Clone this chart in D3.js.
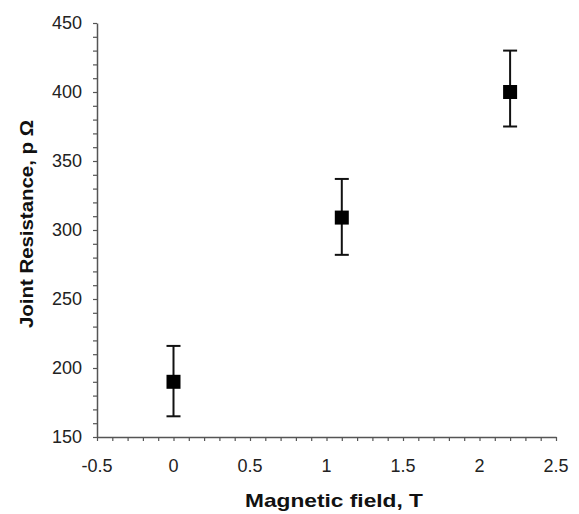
<!DOCTYPE html>
<html>
<head>
<meta charset="utf-8">
<script src="https://cdn.jsdelivr.net/npm/d3@7"></script>
<style>
  body { margin: 0; background: #fff; }
  text { font-family: "Liberation Sans", Arial, sans-serif; }
</style>
</head>
<body>
<script>
var svg_width  = 579;
var svg_height = 514;

// data
var field      = [0, 1.1, 2.2];
var resistance = [190, 309, 400];
var errLow     = [165, 282, 375];
var errHigh    = [216, 337, 430];

var xTicks = [-0.5, 0, 0.5, 1, 1.5, 2, 2.5];
var yTicks = [150, 200, 250, 300, 350, 400, 450];

var margin = {left: 97, top: 23, right: 23, bottom: 77};

var svg = d3.select('body').append('svg')
            .attr('width', svg_width)
            .attr('height', svg_height);

var x = d3.scaleLinear().domain([-0.5, 2.5]).range([margin.left, svg_width - margin.right]);
var y = d3.scaleLinear().domain([150, 450]).range([svg_height - margin.bottom, margin.top]);

var axisColor = "#555";

// minor ticks every 0.1 / 10
var xMinor = d3.range(-0.5, 2.5001, 0.1);
var yMinor = d3.range(150, 450.001, 10);

var xAxis = svg.append("g")
    .attr("transform", "translate(0," + y(150) + ")")
    .call(d3.axisBottom(x).tickValues(xMinor).tickSize(4).tickSizeOuter(0).tickFormat(""));
var yAxis = svg.append("g")
    .attr("transform", "translate(" + x(-0.5) + ",0)")
    .call(d3.axisLeft(y).tickValues(yMinor).tickSize(4).tickSizeOuter(0).tickFormat(""));

[xAxis, yAxis].forEach(function(a) {
  a.select(".domain").attr("stroke", axisColor).attr("stroke-width", 1.5);
  a.selectAll(".tick line").attr("stroke", axisColor).attr("stroke-width", 1.2);
});

// tick labels
svg.append("g").selectAll("text")
   .data(xTicks)
   .enter().append("text")
   .attr("x", d => x(d))
   .attr("y", y(150) + 35)
   .attr("text-anchor", "middle")
   .attr("font-size", 18)
   .attr("fill", "#222")
   .text(d => d);

svg.append("g").selectAll("text")
   .data(yTicks)
   .enter().append("text")
   .attr("x", x(-0.5) - 15)
   .attr("y", d => y(d) + 6)
   .attr("text-anchor", "end")
   .attr("font-size", 18)
   .attr("fill", "#222")
   .text(d => d);

// axis titles (the original font is a bit wider than Liberation Sans)
svg.append("text")
   .attr("x", 334)
   .attr("y", 507)
   .attr("text-anchor", "middle")
   .attr("font-size", 19)
   .attr("font-weight", "bold")
   .attr("fill", "#111")
   .attr("textLength", 178)
   .attr("lengthAdjust", "spacingAndGlyphs")
   .text("Magnetic field, T");

svg.append("text")
   .attr("transform", "translate(33," + 224 + ") rotate(-90)")
   .attr("text-anchor", "middle")
   .attr("font-size", 19)
   .attr("font-weight", "bold")
   .attr("fill", "#111")
   .attr("textLength", 208)
   .attr("lengthAdjust", "spacingAndGlyphs")
   .text("Joint Resistance, p Ω");

// error bars
var pts = field.map(function(f, i) {
  return {x: f, y: resistance[i], lo: errLow[i], hi: errHigh[i]};
});

var capW = 7;
var err = svg.append("g").selectAll("g")
   .data(pts)
   .enter().append("g")
   .attr("stroke", "#111")
   .attr("stroke-width", 2);

err.append("line")
   .attr("x1", d => x(d.x)).attr("x2", d => x(d.x))
   .attr("y1", d => y(d.lo)).attr("y2", d => y(d.hi));
err.append("line")
   .attr("x1", d => x(d.x) - capW).attr("x2", d => x(d.x) + capW)
   .attr("y1", d => y(d.hi)).attr("y2", d => y(d.hi));
err.append("line")
   .attr("x1", d => x(d.x) - capW).attr("x2", d => x(d.x) + capW)
   .attr("y1", d => y(d.lo)).attr("y2", d => y(d.lo));

// square markers
var sq = 14;
svg.append("g").selectAll("rect")
   .data(pts)
   .enter().append("rect")
   .attr("x", d => x(d.x) - sq / 2)
   .attr("y", d => y(d.y) - sq / 2)
   .attr("width", sq)
   .attr("height", sq)
   .attr("fill", "#000");
</script>
</body>
</html>
